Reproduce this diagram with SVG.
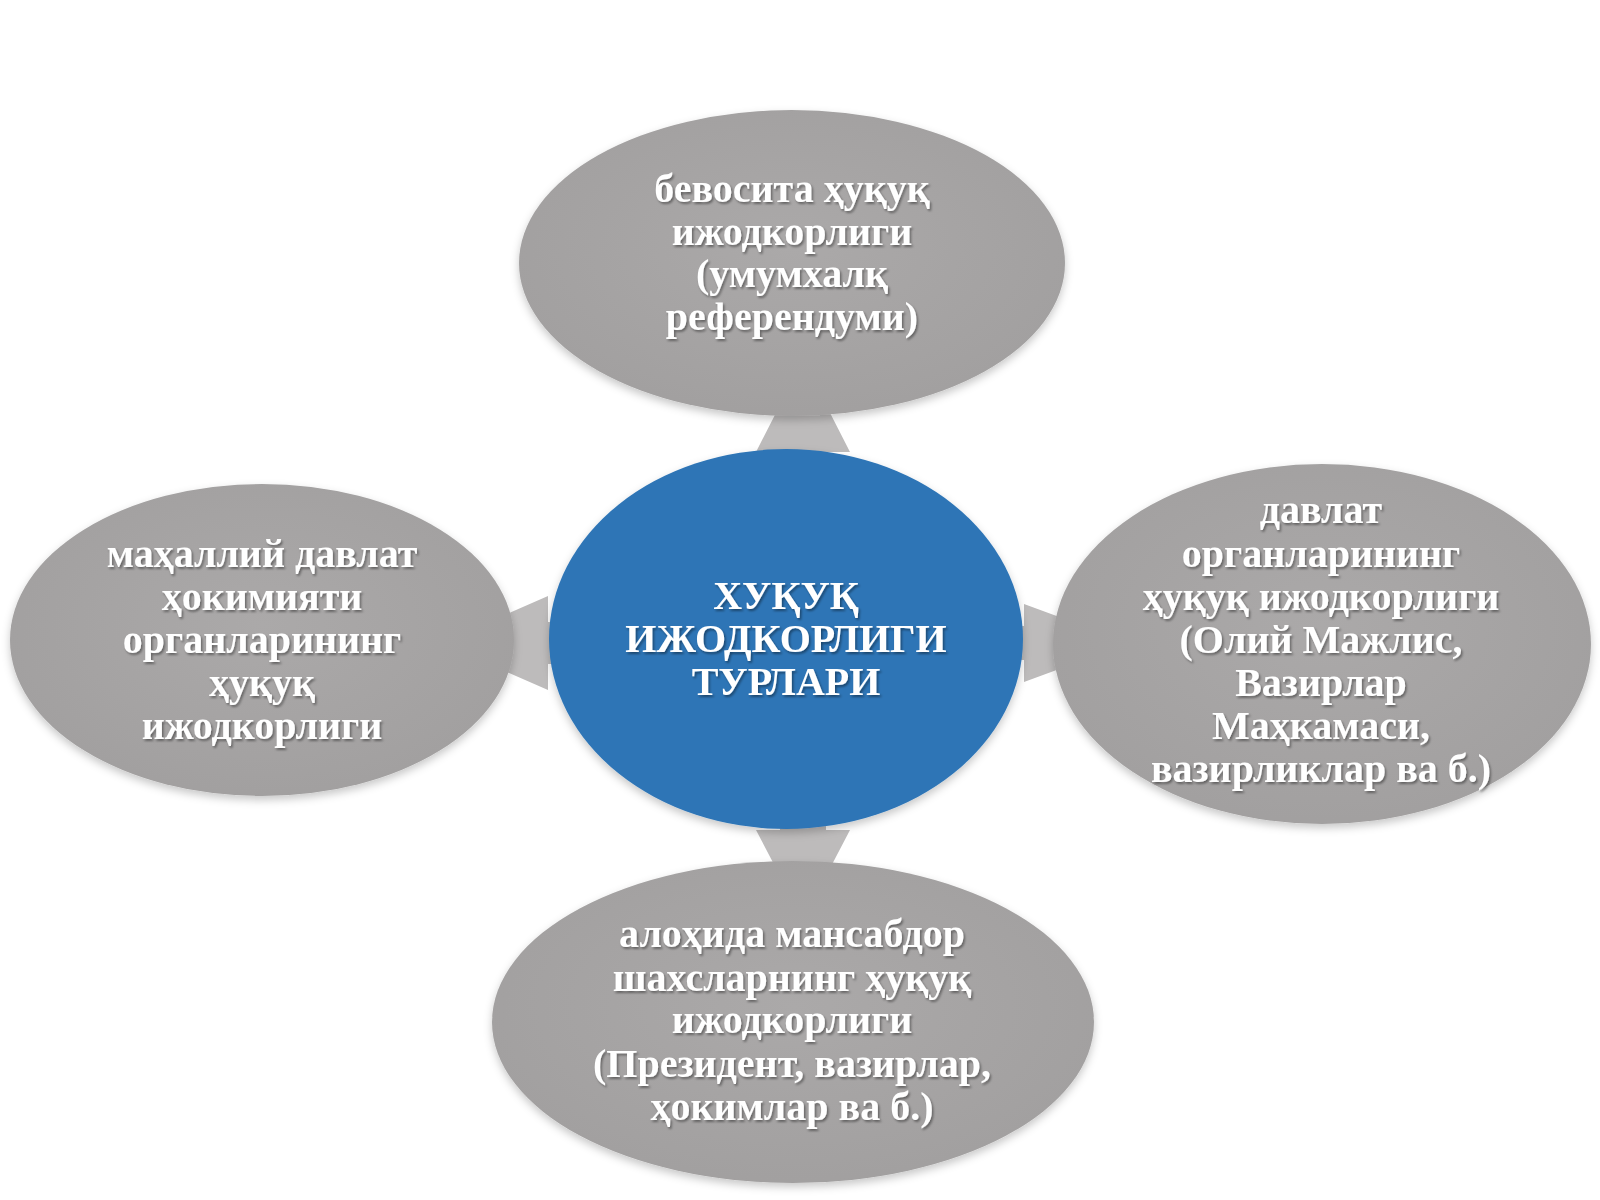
<svg xmlns="http://www.w3.org/2000/svg" width="1600" height="1200" viewBox="0 0 1600 1200">
<defs>
<filter id="sh" x="-10%" y="-10%" width="120%" height="125%">
<feDropShadow dx="0" dy="4" stdDeviation="4" flood-color="#000" flood-opacity="0.22"/>
</filter>
<filter id="tsh" x="-5%" y="-20%" width="110%" height="140%">
<feDropShadow dx="1.5" dy="2" stdDeviation="1.2" flood-color="#000" flood-opacity="0.4"/>
</filter>
<radialGradient id="gr" cx="50%" cy="45%" r="60%">
<stop offset="0" stop-color="#aba9a9"/>
<stop offset="1" stop-color="#a19f9f"/>
</radialGradient>
</defs>
<style>
.node{fill:url(#gr);filter:url(#sh)}
.center{fill:#2e75b6;filter:url(#sh)}
.conn{fill:#bdbbbb}
text{font-family:"Liberation Serif","Times New Roman",serif;font-weight:bold;font-size:40px;fill:#ffffff;text-anchor:middle;filter:url(#tsh)}
</style>
<rect width="1600" height="1200" fill="#ffffff"/>
<g id="connectors">
<polygon class="conn" points="780,470 780,452 756,452 803,360 850,452 826,452 826,470"/>
<polygon class="conn" points="565,622 548,622 548,596 440,643 548,690 548,664 565,664"/>
<polygon class="conn" points="1005,626 1024,626 1024,604 1130,643 1024,682 1024,660 1005,660"/>
<polygon class="conn" points="780,812 780,830 756,830 803,920 850,830 826,830 826,812"/>
</g>
<g id="top">
<ellipse class="node" cx="792" cy="263" rx="273" ry="153"/>
<text x="792" y="202">бевосита ҳуқуқ</text>
<text x="792" y="245">ижодкорлиги</text>
<text x="792" y="287">(умумхалқ</text>
<text x="792" y="330">референдуми)</text>
</g>
<g id="left">
<ellipse class="node" cx="262" cy="640" rx="252" ry="156"/>
<text x="262" y="567">маҳаллий давлат</text>
<text x="262" y="610">ҳокимияти</text>
<text x="262" y="653">органларининг</text>
<text x="262" y="696">ҳуқуқ</text>
<text x="262" y="739">ижодкорлиги</text>
</g>
<g id="right">
<ellipse class="node" cx="1322" cy="644" rx="269" ry="180"/>
<text x="1321" y="523">давлат</text>
<text x="1321" y="567">органларининг</text>
<text x="1321" y="610">ҳуқуқ ижодкорлиги</text>
<text x="1321" y="653">(Олий Мажлис,</text>
<text x="1321" y="696">Вазирлар</text>
<text x="1321" y="739">Маҳкамаси,</text>
<text x="1321" y="782">вазирликлар ва б.)</text>
</g>
<g id="bottom">
<ellipse class="node" cx="793" cy="1022" rx="301" ry="161"/>
<text x="792" y="947">алоҳида мансабдор</text>
<text x="792" y="991">шахсларнинг ҳуқуқ</text>
<text x="792" y="1033">ижодкорлиги</text>
<text x="792" y="1077">(Президент, вазирлар,</text>
<text x="792" y="1120">ҳокимлар ва б.)</text>
</g>
<g id="center">
<ellipse class="center" cx="786" cy="639" rx="237" ry="190"/>
<text x="786" y="609">ХУҚУҚ</text>
<text x="786" y="652">ИЖОДКОРЛИГИ</text>
<text x="786" y="695">ТУРЛАРИ</text>
</g>
</svg>
